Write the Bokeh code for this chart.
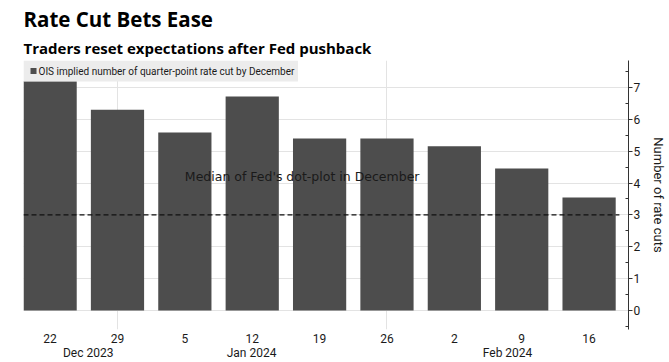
from bokeh.plotting import figure
from bokeh.models import (ColumnDataSource, Range1d, LinearAxis, FixedTicker, Title)
from bokeh.embed import file_html
from bokeh.resources import INLINE
from bokeh.core.properties import value

# ---- data ----
day_labels = ["22", "29", "5", "12", "19", "26", "2", "9", "16"]
rate_cuts = [7.2, 6.3, 5.59, 6.72, 5.4, 5.4, 5.16, 4.46, 3.55]
month_labels = ["Dec 2023", "Jan 2024", "Feb 2024"]
month_label_pos = [0.565, 2.99, 6.79]
month_gridline_idx = [1, 5]
dot_plot_median = 3
y_ticks = [0, 1, 2, 3, 4, 5, 6, 7]

series_name = "OIS implied number of quarter-point rate cut by December"
title_text = "Rate Cut Bets Ease"
subtitle_text = "Traders reset expectations after Fed pushback"
annot_text = "Median of Fed's dot-plot in December"

BAR = "#4d4d4d"
TXT = "#1a1a1a"
GRID = "#e3e3e3"

idx = list(range(len(rate_cuts)))
src = ColumnDataSource(dict(x=idx, y=rate_cuts))

x0, x1 = -0.395, -0.395 + 8.98
y0, y1 = -0.6, 7.85
p = figure(width=669, height=362, output_backend="svg", toolbar_location=None,
           x_range=Range1d(x0, x1), y_range=Range1d(y0, y1),
           min_border_left=23, min_border_top=60, min_border_bottom=0,
           min_border_right=0, outline_line_color=None,
           x_axis_location=None, y_axis_location=None)
p.background_fill_color = "white"
p.border_fill_color = "white"

# grids
p.ygrid.ticker = FixedTicker(ticks=y_ticks)
p.ygrid.grid_line_color = GRID
p.xgrid.ticker = FixedTicker(ticks=month_gridline_idx)
p.xgrid.grid_line_color = GRID

bars = p.vbar(x="x", top="y", width=0.79, bottom=0, source=src,
              fill_color=BAR, line_color=None)

# median dashed line
p.segment(x0=[x0], y0=[dot_plot_median], x1=[idx[-1] + 0.45], y1=[dot_plot_median],
          line_color="#111111", line_width=1.4, line_dash="5 3")
p.text(x=[2], y=[4.2], text=[annot_text], text_font=value("DejaVu Sans"),
       text_font_size="12.5px", text_color=TXT, text_baseline="middle",
       text_align="left")

# legend box (drawn by hand, top-left corner of the plot area)
px_x = (x1 - x0) / 604.0   # data units per pixel (frame is ~604 x 269 px)
px_y = (y1 - y0) / 269.0
p.quad(left=[x0], right=[x0 + 274 * px_x], top=[y1], bottom=[y1 - 21 * px_y],
       fill_color="#ececec", line_color=None)
p.scatter(x=[x0 + 10 * px_x], y=[y1 - 10.5 * px_y], marker="square", size=6,
          fill_color=BAR, line_color=None)
p.text(x=[x0 + 15 * px_x], y=[y1 - 10.5 * px_y], text=[series_name],
       text_font=value("Roboto"), text_font_size="10px", text_color=TXT,
       text_baseline="middle", text_align="left")

# right axis
ra = LinearAxis(ticker=FixedTicker(ticks=y_ticks,
                                   minor_ticks=[t + 0.5 for t in [-1] + y_ticks]),
                axis_label="Number of rate cuts")
ra.axis_line_color = "#333333"
ra.major_tick_line_color = "#333333"
ra.minor_tick_line_color = "#333333"
ra.major_tick_out = 4
ra.major_tick_in = 0
ra.minor_tick_in = 3
ra.minor_tick_out = 0
ra.major_label_text_font = "Roboto"
ra.major_label_text_font_size = "12px"
ra.major_label_text_color = TXT
ra.major_label_standoff = 1
ra.axis_label_text_font = "Roboto"
ra.axis_label_text_font_size = "13px"
ra.axis_label_text_font_style = "normal"
ra.axis_label_text_color = TXT
ra.axis_label_standoff = 8
p.add_layout(ra, "right")

# bottom axis: day numbers on first line, month names on second line
overrides = {i: d for i, d in zip(idx, day_labels)}
overrides.update({pos: "\n" + m for pos, m in zip(month_label_pos, month_labels)})
bx = LinearAxis(ticker=FixedTicker(ticks=idx + month_label_pos),
                major_label_overrides=overrides)
bx.axis_line_color = None
bx.major_tick_line_color = None
bx.minor_tick_line_color = None
bx.major_tick_out = 0
bx.major_tick_in = 0
bx.major_label_text_font = "Roboto"
bx.major_label_text_font_size = "12px"
bx.major_label_text_line_height = 1.0
bx.major_label_text_color = TXT
bx.major_label_standoff = 2
p.add_layout(bx, "below")

# titles
p.add_layout(Title(text=subtitle_text, text_font="Open Sans", text_font_size="15px",
                   text_font_style="bold", text_color="black", standoff=6,
                   offset=0), "above")
p.add_layout(Title(text=title_text, text_font="Open Sans", text_font_size="20.5px",
                   text_font_style="bold", text_color="black", standoff=0,
                   offset=0), "above")

open("out.html", "w").write(file_html(p, INLINE))
